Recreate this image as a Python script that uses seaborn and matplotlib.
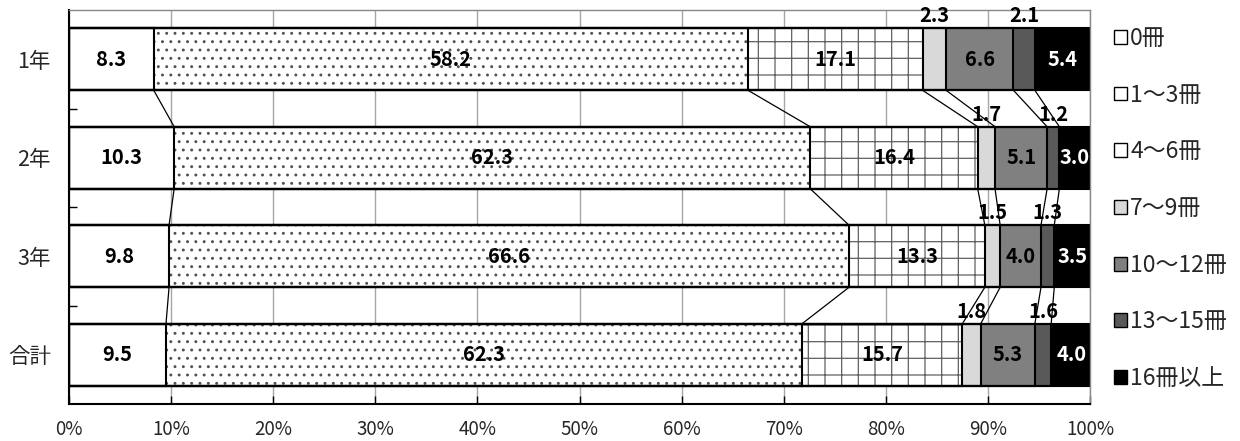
import numpy as np
import matplotlib
matplotlib.use('Agg')
import matplotlib.pyplot as plt
from matplotlib.patches import Patch
import seaborn as sns

# ---- data ----
grades = ['1年', '2年', '3年', '合計']
series = ['0冊', '1～3冊', '4～6冊', '7～9冊', '10～12冊', '13～15冊', '16冊以上']
v_0 = [8.3, 10.3, 9.8, 9.5]
v_1_3 = [58.2, 62.3, 66.6, 62.3]
v_4_6 = [17.1, 16.4, 13.3, 15.7]
v_7_9 = [2.3, 1.7, 1.5, 1.8]
v_10_12 = [6.6, 5.1, 4.0, 5.3]
v_13_15 = [2.1, 1.2, 1.3, 1.6]
v_16 = [5.4, 3.0, 3.5, 4.0]
x_ticks = [0, 10, 20, 30, 40, 50, 60, 70, 80, 90, 100]
x_tick_labels = ['0%', '10%', '20%', '30%', '40%', '50%', '60%', '70%', '80%', '90%', '100%']

# ---- style ----
fills = ['white', 'white', 'white', '#d9d9d9', '#808080', '#595959', 'black']
hatches = [None, '..', '+', None, None, None, None]
hatch_cols = ['black', '#505050', '#606060', 'black', 'black', 'black', 'black']
above = {3, 5}

sns.set_style('white')
plt.rcParams['font.family'] = ['Noto Sans CJK JP', 'DejaVu Sans']
plt.rcParams['hatch.linewidth'] = 0.9

vals = np.array([v_0, v_1_3, v_4_6, v_7_9, v_10_12, v_13_15, v_16])
cum = np.cumsum(vals, axis=0)
bw = 0.63

fig = plt.figure(figsize=(12.4, 4.41), dpi=100)
ax = fig.add_axes([69 / 1240, 1 - 404 / 441, (1090 - 69) / 1240, (404 - 10) / 441])

# filled layers, largest cumulative first
for k in reversed(range(len(series))):
    n0 = len(ax.patches)
    sns.barplot(x=cum[k], y=grades, orient='h', color=fills[k], saturation=1,
                width=bw, errorbar=None, ax=ax)
    for p in ax.patches[n0:]:
        p.set_facecolor(fills[k])
        p.set_edgecolor(hatch_cols[k])
        p.set_linewidth(0)
        if hatches[k]:
            p.set_hatch(hatches[k])

# outlines
for k in range(len(series)):
    n0 = len(ax.patches)
    sns.barplot(x=cum[k], y=grades, orient='h', color='black', saturation=1,
                width=bw, errorbar=None, ax=ax)
    for p in ax.patches[n0:]:
        p.set_facecolor('none')
        p.set_edgecolor('black')
        p.set_linewidth(1.5)

# series lines
for k in range(len(series) - 1):
    for i in range(len(grades) - 1):
        ax.plot([cum[k, i], cum[k, i + 1]], [i + bw / 2, i + 1 - bw / 2],
                color='black', lw=0.9, zorder=2)

# value labels
for k in range(len(series)):
    for i in range(len(grades)):
        v = vals[k, i]
        xc = cum[k, i] - v / 2
        if k in above:
            ax.text(xc, i - bw / 2 - 0.02, f'{v:.1f}', ha='center', va='bottom',
                    fontsize=14.5, fontweight='bold', color='black', zorder=4)
        else:
            ax.text(xc, i, f'{v:.1f}', ha='center', va='center',
                    fontsize=14.5, fontweight='bold',
                    color='white' if k == 6 else 'black', zorder=4)

ax.set_xlim(0, 100)
ax.set_ylim(3.5, -0.5)
ax.set_xticks(x_ticks)
ax.set_xticklabels(x_tick_labels, fontsize=13.5)
ax.set_xlabel('')
ax.set_ylabel('')
ax.tick_params(axis='y', which='major', length=0, pad=13, labelsize=15.5)
ax.set_yticks([0.5, 1.5, 2.5], minor=True)
ax.tick_params(axis='y', which='minor', length=6, width=1, direction='in', color='black', left=True)
ax.tick_params(axis='x', which='major', length=6, width=1, direction='in', color='black', pad=11, bottom=True)
ax.set_axisbelow(True)
ax.xaxis.grid(True, color='#a6a6a6', lw=1)
ax.yaxis.grid(False)
for s in ['left', 'bottom']:
    ax.spines[s].set_color('black')
    ax.spines[s].set_linewidth(1.5)
for s in ['top', 'right']:
    ax.spines[s].set_color('#888888')
    ax.spines[s].set_linewidth(1)

handles = [Patch(facecolor=fills[k], edgecolor='black', linewidth=1) for k in range(len(series))]
fig.legend(handles, series, loc='upper left', bbox_to_anchor=(1114 / 1240, 1 - 27 / 441),
           frameon=False, fontsize=16.5, handlelength=0.55, handleheight=0.55,
           handletextpad=0.15, labelspacing=1.47, borderpad=0, borderaxespad=0)

fig.savefig('out.png', dpi=100)
